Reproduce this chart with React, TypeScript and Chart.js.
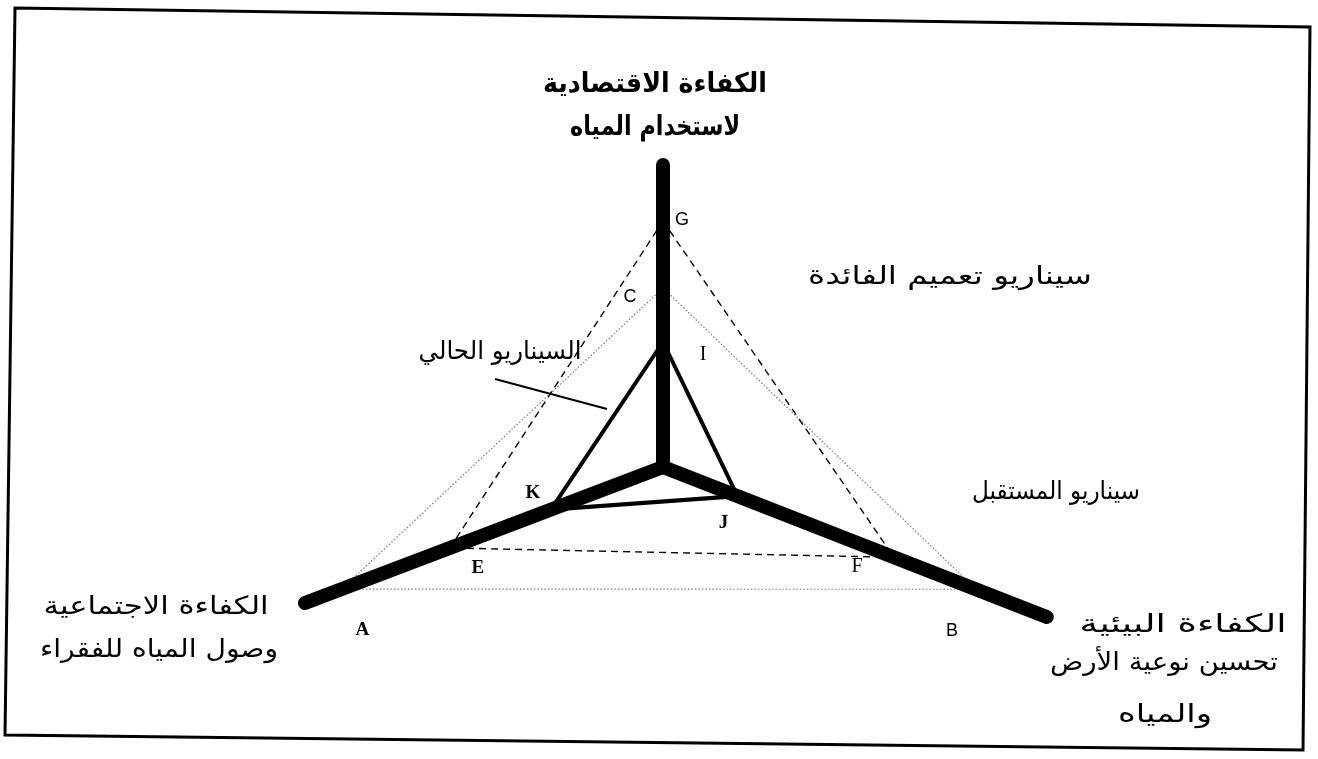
import React, { useEffect, useRef } from 'react';
import { Chart, registerables } from 'chart.js';

Chart.register(...registerables);

// ---------------- data ----------------
// axis order: economic efficiency (top), environmental efficiency (right), social efficiency (left)
const axisNames = ['الكفاءة الاقتصادية', 'الكفاءة البيئية', 'الكفاءة الاجتماعية'];
const axisLength = [302, 412, 383];
const currentScenario = [125, 80, 120]; // I, J, K
const benefitScenario = [246, 248, 228]; // G, F, E
const futureScenario = [179, 336, 344]; // C, B, A
const currentLabels = ['I', 'J', 'K'];
const benefitLabels = ['G', 'F', 'E'];
const futureLabels = ['C', 'B', 'A'];

// ---------------- layout ----------------
const W = 1318;
const H = 759;
const CENTER = { x: 663, y: 467 };
const AXIS_ANGLE_DEG = [90, -21.34, 200.8];

const LABEL_OFFSETS: Record<string, [number, number, string]> = {
  G: [19, -1, "18px 'Liberation Sans'"],
  C: [-33, 9, "18px 'Liberation Sans'"],
  I: [40, 13, "20px 'Liberation Serif'"],
  K: [-18, -17, "bold 19px 'Liberation Serif'"],
  J: [-14, 27, "bold 19px 'Liberation Serif'"],
  E: [28, 20, "bold 19px 'Liberation Serif'"],
  F: [-37, 10, "20px 'Liberation Serif'"],
  A: [21, 41, "bold 19px 'Liberation Serif'"],
  B: [-24, 42, "18px 'Liberation Sans'"],
};

// t: text, x/y: centre, w: target width, s: font size
const TEXTS: { t: string; x: number; y: number; w: number; s: number; bold?: boolean }[] = [
  { t: 'الكفاءة الاقتصادية', x: 655, y: 85, w: 224, s: 27, bold: true },
  { t: 'لاستخدام المياه', x: 655, y: 128, w: 170, s: 27, bold: true },
  { t: 'سيناريو تعميم الفائدة', x: 950, y: 277, w: 284, s: 25 },
  { t: 'السيناريو الحالي', x: 500, y: 352, w: 163, s: 25 },
  { t: 'سيناريو المستقبل', x: 1056, y: 492, w: 168, s: 25 },
  { t: 'الكفاءة الاجتماعية', x: 156, y: 607, w: 225, s: 25 },
  { t: 'وصول المياه للفقراء', x: 159, y: 650, w: 238, s: 25 },
  { t: 'الكفاءة البيئية', x: 1183, y: 625, w: 207, s: 25 },
  { t: 'تحسين نوعية الأرض', x: 1164, y: 663, w: 228, s: 25 },
  { t: 'والمياه', x: 1165, y: 715, w: 94, s: 25 },
];

const FRAME = [
  [15, 8],
  [1310, 27],
  [1303, 750],
  [5, 735],
];
const LEADER = [
  [495, 379],
  [607, 409],
];

function polar(axis: number, r: number) {
  const a = (AXIS_ANGLE_DEG[axis] * Math.PI) / 180;
  return { x: r * Math.cos(a), y: r * Math.sin(a) };
}

function triangle(values: number[]) {
  const pts = values.map((v, i) => polar(i, v));
  return [...pts, pts[0]];
}

export default function App() {
  const ref = useRef<HTMLCanvasElement>(null);

  useEffect(() => {
    const canvas = ref.current!;
    const axisDatasets = axisLength.map((len, i) => ({
      label: axisNames[i],
      data: [{ x: 0, y: 0 }, polar(i, len)],
      showLine: true,
      borderColor: '#000',
      borderWidth: 14,
      borderCapStyle: 'round' as const,
      borderJoinStyle: 'round' as const,
      pointRadius: 0,
      order: 0,
      clip: false as const,
    }));

    const annotate = {
      id: 'annotate',
      afterDatasetsDraw(chart: any) {
        const ctx = chart.ctx as CanvasRenderingContext2D;
        const xs = chart.scales.x;
        const ys = chart.scales.y;
        ctx.save();
        // frame
        ctx.strokeStyle = '#000';
        ctx.lineWidth = 3;
        ctx.beginPath();
        FRAME.forEach(([x, y], i) => (i ? ctx.lineTo(x, y) : ctx.moveTo(x, y)));
        ctx.closePath();
        ctx.stroke();
        // leader line
        ctx.lineWidth = 2;
        ctx.beginPath();
        ctx.moveTo(LEADER[0][0], LEADER[0][1]);
        ctx.lineTo(LEADER[1][0], LEADER[1][1]);
        ctx.stroke();
        // point labels
        ctx.fillStyle = '#000';
        ctx.textAlign = 'center';
        ctx.textBaseline = 'middle';
        const groups: [number[], string[]][] = [
          [currentScenario, currentLabels],
          [benefitScenario, benefitLabels],
          [futureScenario, futureLabels],
        ];
        groups.forEach(([vals, labs]) => {
          vals.forEach((v, i) => {
            const p = polar(i, v);
            const [dx, dy, font] = LABEL_OFFSETS[labs[i]];
            ctx.font = font;
            ctx.fillText(labs[i], xs.getPixelForValue(p.x) + dx, ys.getPixelForValue(p.y) + dy);
          });
        });
        // arabic texts, scaled horizontally to the measured width of the reference
        ctx.direction = 'rtl';
        TEXTS.forEach((tx) => {
          const fam = "'DejaVu Sans'";
          ctx.font = `${tx.bold ? 'bold ' : ''}${tx.s}px ${fam}`;
          const m = ctx.measureText(tx.t).width;
          const sx = tx.w / m;
          ctx.save();
          ctx.translate(tx.x, tx.y);
          ctx.scale(sx, 1);
          ctx.fillText(tx.t, 0, 0);
          ctx.restore();
        });
        ctx.restore();
      },
    };

    const chart = new Chart(canvas, {
      type: 'scatter',
      data: {
        datasets: [
          ...axisDatasets,
          {
            label: 'السيناريو الحالي',
            data: triangle(currentScenario),
            showLine: true,
            borderColor: '#000',
            borderWidth: 4,
            borderJoinStyle: 'miter',
            pointRadius: 0,
            order: 1,
          },
          {
            label: 'سيناريو تعميم الفائدة',
            data: triangle(benefitScenario),
            showLine: true,
            borderColor: '#000',
            borderWidth: 1.4,
            borderDash: [7, 5],
            pointRadius: 0,
            order: 2,
          },
          {
            label: 'سيناريو المستقبل',
            data: triangle(futureScenario),
            showLine: true,
            borderColor: '#7a7a7a',
            borderWidth: 1.2,
            borderDash: [1.5, 2],
            pointRadius: 0,
            order: 3,
          },
        ] as any,
      },
      options: {
        responsive: false,
        animation: false,
        devicePixelRatio: 1,
        layout: { padding: 0 },
        plugins: { legend: { display: false }, tooltip: { enabled: false }, title: { display: false } },
        scales: {
          x: { type: 'linear', display: false, min: -CENTER.x, max: W - CENTER.x },
          y: { type: 'linear', display: false, min: -(H - CENTER.y), max: CENTER.y },
        },
      },
      plugins: [annotate],
    });
    return () => chart.destroy();
  }, []);

  return (
    <div style={{ position: 'absolute', left: 0, top: 0, width: W, height: H, background: '#fff' }}>
      <canvas ref={ref} width={W} height={H} style={{ display: 'block', width: W, height: H }} />
    </div>
  );
}
